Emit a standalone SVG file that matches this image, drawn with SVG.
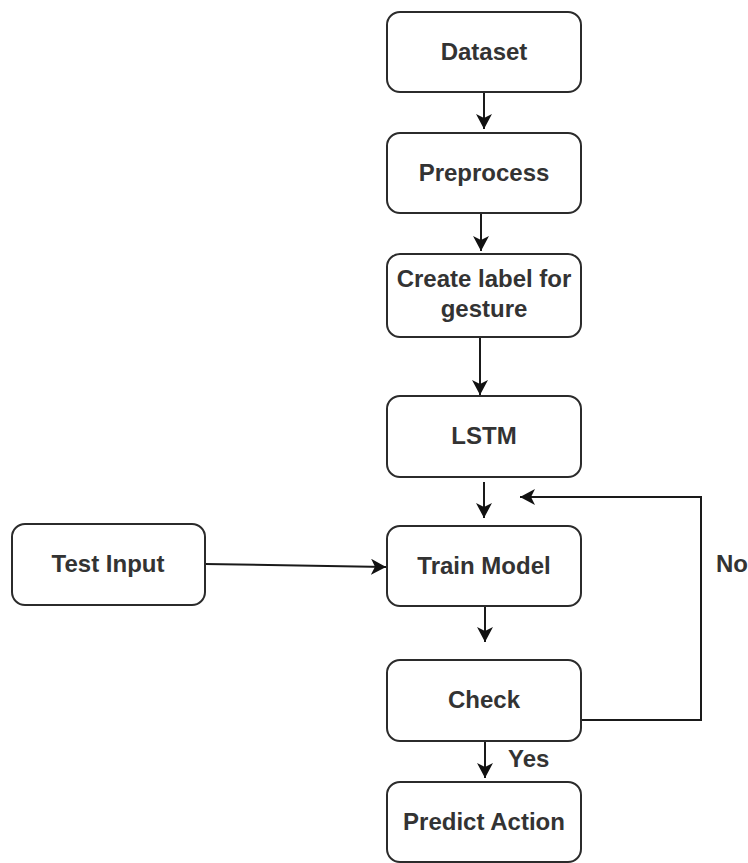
<svg xmlns="http://www.w3.org/2000/svg" width="748" height="863" viewBox="0 0 748 863">
<style>
.box{fill:#fff;stroke:#2b2b2b;stroke-width:2}
.t{font-family:"Liberation Sans",Arial,sans-serif;font-weight:bold;font-size:24px;fill:#333;text-anchor:middle}
.l{font-family:"Liberation Sans",Arial,sans-serif;font-weight:bold;font-size:24px;fill:#333}
.c{fill:none;stroke:#1a1a1a;stroke-width:2}
</style>
<defs>
<marker id="ah" markerUnits="userSpaceOnUse" markerWidth="16" markerHeight="16" refX="15" refY="8" orient="auto">
<path d="M0,0 L15,8 L0,16 L4,8 Z" fill="#111"/>
</marker>
</defs>
<rect width="748" height="863" fill="#fff"/>
<g id="connectors">
<line class="c" x1="484" y1="92" x2="484" y2="129" marker-end="url(#ah)"/>
<line class="c" x1="481" y1="213" x2="481" y2="251" marker-end="url(#ah)"/>
<line class="c" x1="480" y1="337" x2="480" y2="395" marker-end="url(#ah)"/>
<line class="c" x1="484" y1="482" x2="484" y2="518" marker-end="url(#ah)"/>
<line class="c" x1="205" y1="564" x2="386" y2="567" marker-end="url(#ah)"/>
<line class="c" x1="485" y1="606" x2="485" y2="642" marker-end="url(#ah)"/>
<line class="c" x1="485" y1="741" x2="485" y2="778" marker-end="url(#ah)"/>
<polyline class="c" points="581,720 701,720 701,497 520,497" marker-end="url(#ah)"/>
</g>
<g id="dataset"><rect class="box" x="387" y="12" width="194" height="80" rx="13"/><text class="t" x="484" y="60">Dataset</text></g>
<g id="preprocess"><rect class="box" x="387" y="133" width="194" height="80" rx="13"/><text class="t" x="484" y="181">Preprocess</text></g>
<g id="create-label"><rect class="box" x="387" y="254" width="194" height="83" rx="13"/><text class="t" x="484" y="287">Create label for</text><text class="t" x="484" y="317">gesture</text></g>
<g id="lstm"><rect class="box" x="387" y="396" width="194" height="81" rx="13"/><text class="t" x="484" y="444">LSTM</text></g>
<g id="test-input"><rect class="box" x="12" y="524" width="193" height="81" rx="13"/><text class="t" x="108" y="572">Test Input</text></g>
<g id="train-model"><rect class="box" x="387" y="526" width="194" height="80" rx="13"/><text class="t" x="484" y="574">Train Model</text></g>
<g id="check"><rect class="box" x="387" y="660" width="194" height="81" rx="13"/><text class="t" x="484" y="708">Check</text></g>
<g id="predict-action"><rect class="box" x="387" y="782" width="194" height="80" rx="13"/><text class="t" x="484" y="830">Predict Action</text></g>
<g id="labels"><text class="l" x="508" y="767">Yes</text><text class="l" x="716" y="572">No</text></g>
</svg>
